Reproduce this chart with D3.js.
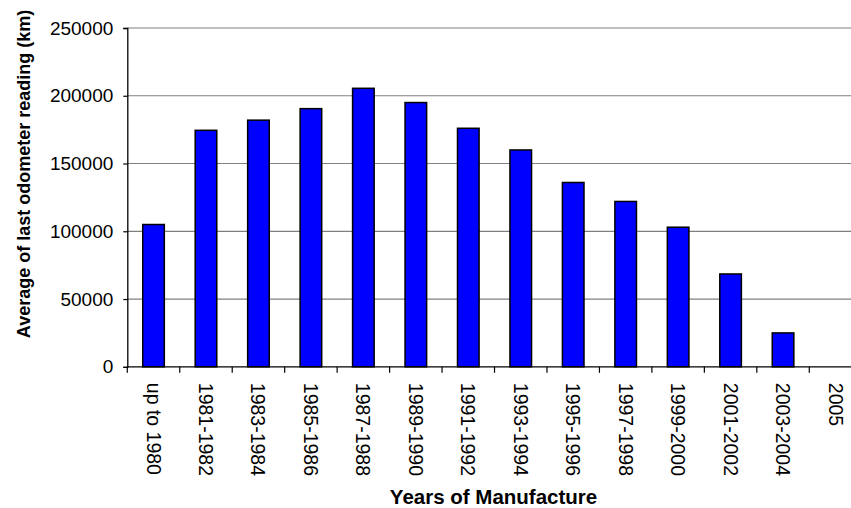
<!DOCTYPE html>
<html>
<head>
<meta charset="utf-8">
<script src="https://cdn.jsdelivr.net/npm/d3@7"></script>
<style>
  html, body { margin: 0; padding: 0; background: #fff; }
  svg { display: block; }
  text { font-family: "Liberation Sans", Arial, sans-serif; fill: #000; }
</style>
</head>
<body>
<svg id="chart" width="851" height="508"></svg>
<script>
// Average odometer reading by year-of-manufacture group
const categories = [
  "up to 1980", "1981-1982", "1983-1984", "1985-1986", "1987-1988",
  "1989-1990", "1991-1992", "1993-1994", "1995-1996", "1997-1998",
  "1999-2000", "2001-2002", "2003-2004", "2005"
];
const avgOdometer = [
  105000, 174500, 182000, 190500, 205500,
  195000, 176000, 160000, 136000, 122000,
  103000, 68500, 25000, 0
];
const yTicks = [0, 50000, 100000, 150000, 200000, 250000];

(function () {
  const svg = d3.select("#chart");

  // Plot area (the category axis runs slightly past the right edge of the canvas)
  const plotLeft = 127.3, plotTop = 28, plotBottom = 366.8;
  const step = 52.46;
  const plotRight = plotLeft + step * categories.length;

  const x = d3.scaleBand()
    .domain(categories)
    .range([plotLeft, plotRight])
    .paddingInner(0.56)
    .paddingOuter(0.28);

  const y = d3.scaleLinear()
    .domain([0, 250000])
    .range([plotBottom, plotTop]);

  // Horizontal gridlines
  svg.append("g")
    .selectAll("line")
    .data(yTicks.filter(d => d > 0))
    .join("line")
    .attr("x1", plotLeft).attr("x2", plotRight)
    .attr("y1", d => y(d)).attr("y2", d => y(d))
    .attr("stroke", "#808080")
    .attr("stroke-width", 1.2);

  // Bars
  const bw = x.bandwidth();
  svg.append("g")
    .selectAll("rect")
    .data(categories.map((c, i) => ({ c, v: avgOdometer[i] })).filter(d => d.v > 0))
    .join("rect")
    .attr("x", d => x(d.c) + 0.75)
    .attr("y", d => y(d.v))
    .attr("width", bw - 1.5)
    .attr("height", d => plotBottom - y(d.v))
    .attr("fill", "#0000ff")
    .attr("stroke", "#000")
    .attr("stroke-width", 1.5);

  // Y axis
  const yAxis = d3.axisLeft(y)
    .tickValues(yTicks)
    .tickFormat(d3.format("d"))
    .tickSize(4)
    .tickPadding(10);
  const gy = svg.append("g")
    .attr("transform", `translate(${plotLeft},0)`)
    .call(yAxis);
  gy.select(".domain").attr("stroke", "#000").attr("stroke-width", 1.3);
  gy.selectAll(".tick line").attr("stroke", "#000").attr("stroke-width", 1.2);
  gy.selectAll(".tick text")
    .attr("font-size", 19)
    .style("font-family", "'Liberation Sans', Arial, sans-serif")
    .attr("fill", "#000");

  // X axis: ticks sit on the band boundaries
  svg.append("line")
    .attr("x1", plotLeft).attr("x2", plotRight)
    .attr("y1", plotBottom).attr("y2", plotBottom)
    .attr("stroke", "#000").attr("stroke-width", 1.3);

  const boundaries = categories.map(c => x(c) - x.step() * x.paddingInner() / 2);
  svg.append("g")
    .selectAll("line")
    .data(boundaries)
    .join("line")
    .attr("x1", d => d).attr("x2", d => d)
    .attr("y1", plotBottom).attr("y2", plotBottom + 6)
    .attr("stroke", "#000").attr("stroke-width", 1.2);

  // Category labels, rotated to read downward
  svg.append("g")
    .selectAll("text")
    .data(categories)
    .join("text")
    .attr("transform", d => `translate(${x(d) + bw / 2},${plotBottom + 16}) rotate(90)`)
    .attr("text-anchor", "start")
    .attr("dominant-baseline", "central")
    .attr("font-size", 19.5)
    .text(d => d);

  // Axis titles
  svg.append("text")
    .attr("x", plotLeft + step * categories.length / 2 - 1)
    .attr("y", 504)
    .attr("text-anchor", "middle")
    .attr("font-size", 20.5)
    .attr("font-weight", "bold")
    .text("Years of Manufacture");

  svg.append("text")
    .attr("transform", "translate(30,174) rotate(-90)")
    .attr("text-anchor", "middle")
    .attr("font-size", 18)
    .attr("font-weight", "bold")
    .text("Average of last odometer reading (km)");
})();
</script>
</body>
</html>
